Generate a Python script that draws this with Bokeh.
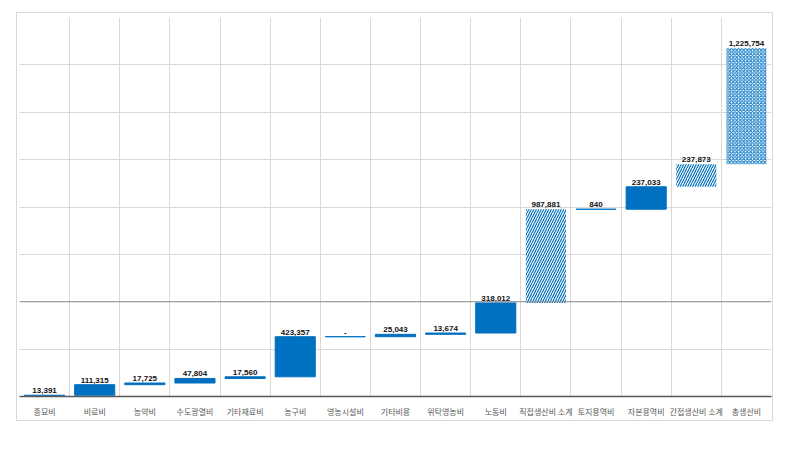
from bokeh.plotting import figure
from bokeh.models import FixedTicker, Span, ColumnDataSource
from bokeh.core.properties import value
from bokeh.embed import file_html
from bokeh.resources import INLINE

categories = ["종묘비", "비료비", "농약비", "수도광열비", "기타재료비", "농구비", "영농시설비",
              "기타비용", "위탁영농비", "노동비", "직접생산비 소계", "토지용역비", "자본용역비",
              "간접생산비 소계", "총생산비"]
values = [13391, 111315, 17725, 47804, 17560, 423357, 0, 25043, 13674, 318012,
          987881, 840, 237033, 237873, 1225754]
kinds = ["item", "item", "item", "item", "item", "item", "item", "item", "item", "item",
         "subtotal", "item", "item", "subtotal", "total"]
labels = ["13,391", "111,315", "17,725", "47,804", "17,560", "423,357", "-", "25,043",
          "13,674", "318,012", "987,881", "840", "237,033", "237,873", "1,225,754"]

BLUE = "#0070C0"

bottoms, tops = [], []
run = 0
for v in values:
    bottoms.append(run)
    run += v
    tops.append(run)
xs = [i + 0.5 for i in range(len(categories))]

p = figure(width=755, height=407, output_backend="svg", toolbar_location=None,
           x_range=(0, 15), y_range=(0, 4000000),
           min_border_left=2, min_border_right=3, min_border_top=4, min_border_bottom=26)
p.margin = (12, 0, 0, 16)
p.styles = {"border": "1px solid #d9d9d9", "box-sizing": "content-box"}
p.outline_line_color = None
p.background_fill_color = "white"
p.border_fill_color = "white"

def sub(kind):
    idx = [i for i, k in enumerate(kinds) if k == kind]
    return ColumnDataSource(dict(x=[xs[i] for i in idx], b=[bottoms[i] for i in idx],
                                 t=[tops[i] for i in idx]))

p.vbar(x="x", bottom="b", top="t", width=0.8, source=sub("item"),
       fill_color=BLUE, line_color=BLUE, line_width=1)
p.vbar(x="x", bottom="b", top="t", width=0.8, source=sub("subtotal"),
       fill_color="white", line_color=None, hatch_pattern="/", hatch_color=BLUE,
       hatch_scale=5, hatch_weight=1.2)
p.vbar(x="x", bottom="b", top="t", width=0.8, source=sub("total"),
       fill_color="white", line_color=None, hatch_pattern="x", hatch_color=BLUE,
       hatch_scale=3.5, hatch_weight=1)

lab = ColumnDataSource(dict(x=xs, y=tops, t=labels))
p.text(x="x", y="y", text="t", source=lab, text_align="center", text_baseline="bottom",
       y_offset=-2, text_font=value("Liberation Sans"), text_font_size="8px",
       text_font_style="bold", text_color="#111111")

p.xgrid.ticker = FixedTicker(ticks=list(range(16)))
p.xgrid.grid_line_color = "#d9d9d9"
p.ygrid.ticker = FixedTicker(ticks=[i * 500000 for i in range(9)])
p.ygrid.grid_line_color = "#d9d9d9"
p.add_layout(Span(location=1000000, dimension="width", line_color="#8c8c8c", line_width=1))

p.yaxis.visible = False
p.xaxis.ticker = FixedTicker(ticks=xs)
p.xaxis.major_label_overrides = {x: c for x, c in zip(xs, categories)}
p.xaxis.major_tick_line_color = None
p.xaxis.minor_tick_line_color = None
p.xaxis.axis_line_color = "#595959"
p.xaxis.axis_line_width = 1.5
p.xaxis.major_label_text_font = "Noto Sans CJK KR"
p.xaxis.major_label_text_font_size = "8px"
p.xaxis.major_label_text_color = "#595959"
p.xaxis.major_label_standoff = 3

open("out.html", "w").write(file_html(p, INLINE))
